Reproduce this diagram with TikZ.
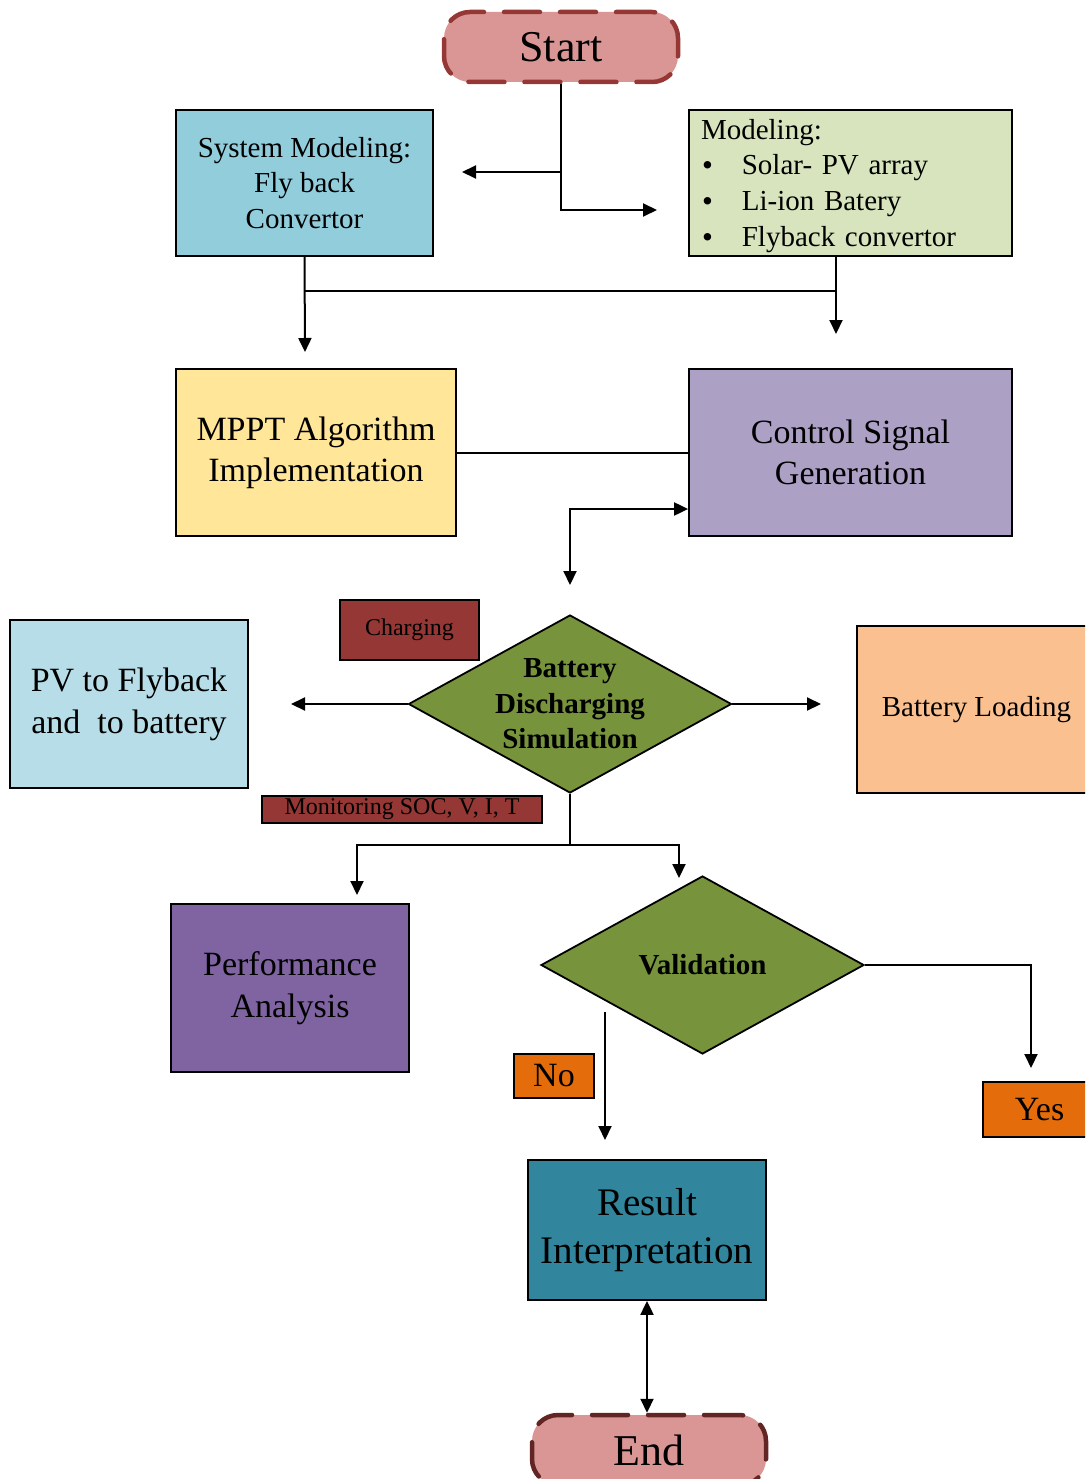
\documentclass[tikz,border=0pt]{standalone}
\usepackage{fontspec}
\setmainfont{Liberation Serif}
\usetikzlibrary{arrows.meta,shapes.geometric}
\definecolor{startfill}{HTML}{D99694}
\definecolor{startdraw}{HTML}{953735}
\definecolor{enddraw}{HTML}{632523}
\definecolor{sysfill}{HTML}{92CDDC}
\definecolor{modfill}{HTML}{D7E4BD}
\definecolor{mpptfill}{HTML}{FFE699}
\definecolor{ctrlfill}{HTML}{ADA0C5}
\definecolor{dgreen}{HTML}{77933C}
\definecolor{dred}{HTML}{953735}
\definecolor{pvfill}{HTML}{B7DEE8}
\definecolor{loadfill}{HTML}{FAC090}
\definecolor{perffill}{HTML}{8064A2}
\definecolor{orangefill}{HTML}{E46C0A}
\definecolor{resfill}{HTML}{31859C}
\newcommand{\bul}{\hspace*{7pt}\smash{\raisebox{-1pt}{\fontsize{31}{31}\selectfont •}}\hspace{29pt}}
\tikzset{
  box/.style={draw=black, line width=1.8pt, inner sep=0pt, align=center},
  term/.style={fill=startfill, draw=startdraw, line width=4.5pt, dash pattern=on 36pt off 20pt, line cap=round, rounded corners=26pt, inner sep=0pt, minimum width=234pt, minimum height=70pt, font=\fontsize{44}{50}\selectfont},
  dia/.style={diamond, draw=black, line width=1.8pt, fill=dgreen, inner sep=0pt, minimum width=323pt, minimum height=178pt},
  conn/.style={line width=2pt},
  arr/.style={line width=2pt, -{Triangle[length=14pt,width=13pt]}},
  darr/.style={line width=2pt, {Triangle[length=14pt,width=13pt]}-{Triangle[length=14pt,width=13pt]}},
  tagbox/.style={box, fill=dred, font=\fontsize{24}{26}\selectfont},
  obox/.style={box, fill=orangefill, font=\fontsize{34}{40}\selectfont}
}
\begin{document}
\begin{tikzpicture}[x=1pt,y=-1pt]
\useasboundingbox (0,0) rectangle (1085,1479);
\clip (0,0) rectangle (1085,1479);

% terminals
\node[term] (start) at (561,47) {Start};
\node[term, draw=enddraw] (end) at (649,1450) {End};

% row 1
\node[box, fill=sysfill, minimum width=257pt, minimum height=146pt, font=\fontsize{29}{35.5}\selectfont] (sys) at (304.5,183) {System Modeling:\\Fly back\\Convertor};
\node[box, fill=modfill, text width=311pt, inner xsep=6pt, align=left, minimum height=146pt, font=\fontsize{29}{36}\selectfont] (mod) at (850.5,183)
 {\rule{0pt}{26pt}\hspace*{6pt}Modeling:\\[-1pt]
  \bul Solar- PV array\\
  \bul Li-ion Batery\\
  \bul Flyback convertor};

% row 2
\node[box, fill=mpptfill, minimum width=280pt, minimum height=167pt, font=\fontsize{34}{41}\selectfont] (mppt) at (316,452.5) {MPPT Algorithm\\Implementation};
\node[box, fill=ctrlfill, minimum width=323pt, minimum height=167pt, font=\fontsize{34}{41}\selectfont] (ctrl) at (850.5,452.5) {Control Signal\\Generation};

% row 3
\node[dia, label={[align=center, font=\bfseries\fontsize{29}{35.5}\selectfont]center:Battery\\Discharging\\Simulation}] (bat) at (570,704) {};
\node[tagbox, minimum width=139pt, minimum height=60pt] (chg) at (409.5,630) {Charging};
\node[tagbox, minimum width=280pt, minimum height=27pt] (mon) at (402,809.5) {Monitoring SOC, V, I, T};
\node[box, fill=pvfill, minimum width=238pt, minimum height=168pt, font=\fontsize{34}{42}\selectfont] (pv) at (129,704) {PV to Flyback\\and \ to battery};
\node[box, fill=loadfill, minimum width=233pt, minimum height=167pt, font=\fontsize{29}{35}\selectfont] (load) at (973.5,709.5) {\hspace*{6pt}Battery Loading};

% row 4
\node[box, fill=perffill, minimum width=238pt, minimum height=168pt, font=\fontsize{34}{42}\selectfont] (perf) at (290,988) {Performance\\Analysis};
\node[dia, label={[font=\bfseries\fontsize{29}{35}\selectfont]center:Validation}] (val) at (702.5,965) {};
\node[obox, minimum width=80pt, minimum height=44pt] (no) at (554,1076) {No};
\node[obox, minimum width=107pt, minimum height=55pt] (yes) at (1036.5,1109.5) {\hspace*{6pt}Yes};

% row 5
\node[box, fill=resfill, minimum width=238pt, minimum height=140pt, font=\fontsize{39}{48}\selectfont] (res) at (647,1230) {Result\\Interpretation};

% coordinates for free ends
\coordinate (a1) at (462,172);
\coordinate (a2) at (657,210);
\coordinate (b1) at (305,352);
\coordinate (b2) at (836,334);
\coordinate (mb) at (836,256);
\coordinate (h1) at (305,291);
\coordinate (c0) at (570,509);
\coordinate (c1) at (570,585);
\coordinate (d1) at (291,704);
\coordinate (d2) at (821,704);
\coordinate (e0) at (570,845);
\coordinate (e1) at (357,895);
\coordinate (e2) at (679,878);
\coordinate (f1) at (1031,1068);
\coordinate (g0) at (605,1012);
\coordinate (g1) at (605,1140);

% connectors
\draw[arr] (start.south) |- (a2);
\draw[arr] (start.south |- a1) -- (a1);
\draw[arr] (sys.south) -- (b1);
\draw[conn] (h1) -- (h1 -| mb);
\draw[arr] (mb) -- (b2);
\draw[conn] (mppt.east) -- (ctrl.west);
\draw[darr] (ctrl.west |- c0) -- (c0) -- (c1);
\draw[arr] (bat.west) -- (d1);
\draw[arr] (bat.east) -- (d2);
\draw[conn] (bat.south) -- (e0);
\draw[arr] (e0) -| (e1);
\draw[arr] (e0) -| (e2);
\draw[arr] (val.east) -| (f1);
\draw[arr] (g0) -- (g1);
\draw[darr] (res.south) -- (res.south |- end.north);
\end{tikzpicture}
\end{document}
